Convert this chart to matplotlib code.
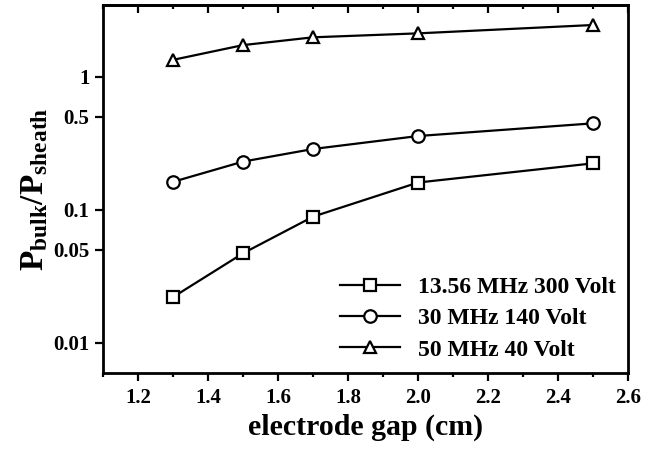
import matplotlib
matplotlib.use("Agg")
import matplotlib.pyplot as plt
from matplotlib.ticker import FixedLocator, MultipleLocator, NullLocator, FormatStrFormatter

plt.rcParams["font.family"] = "Liberation Serif"
plt.rcParams["font.weight"] = "bold"
plt.rcParams["mathtext.fontset"] = "custom"
plt.rcParams["mathtext.rm"] = "Liberation Serif:bold"
plt.rcParams["mathtext.it"] = "Liberation Serif:bold"
plt.rcParams["mathtext.bf"] = "Liberation Serif:bold"

gap = [1.3, 1.5, 1.7, 2.0, 2.5]
ratio_13 = [0.022, 0.047, 0.0886, 0.16, 0.223]
ratio_30 = [0.162, 0.23, 0.286, 0.358, 0.446]
ratio_50 = [1.34, 1.73, 1.98, 2.12, 2.45]
labels = ["13.56 MHz 300 Volt", "30 MHz 140 Volt", "50 MHz 40 Volt"]
ytick_vals = [0.01, 0.05, 0.1, 0.5, 1]
ytick_labels = ["0.01", "0.05", "0.1", "0.5", "1"]

fig = plt.figure(figsize=(6.57, 4.51), dpi=100)
ax = fig.add_axes([0.157, 0.174, 0.799, 0.814])

style = dict(color="black", lw=1.6, markersize=9, markerfacecolor="white",
             markeredgecolor="black", markeredgewidth=1.6)
ax.plot(gap, ratio_13, marker="s", label=labels[0], **style)
ax.plot(gap, ratio_30, marker="o", label=labels[1], **style)
ax.plot(gap, ratio_50, marker="^", label=labels[2], **style)

ax.set_yscale("log")
ax.set_xlim(1.1, 2.6)
ax.set_ylim(0.00595, 3.44)
ax.yaxis.set_major_locator(FixedLocator(ytick_vals))
ax.set_yticklabels(ytick_labels)
ax.yaxis.set_minor_locator(NullLocator())
ax.xaxis.set_major_locator(MultipleLocator(0.2))
ax.xaxis.set_minor_locator(MultipleLocator(0.1))
ax.xaxis.set_major_formatter(FormatStrFormatter("%.1f"))

ax.tick_params(axis="x", which="both", bottom=True, top=False, direction="out",
               labelsize=15, width=1.6, pad=5)
ax.tick_params(axis="x", which="major", length=6)
ax.tick_params(axis="x", which="minor", length=3)
ax.tick_params(axis="y", which="major", direction="out", length=6, width=1.6,
               labelsize=15, pad=4)
for s in ax.spines.values():
    s.set_linewidth(2)

# top ticks point inward
top = ax.secondary_xaxis("top")
top.xaxis.set_major_locator(MultipleLocator(0.2))
top.xaxis.set_minor_locator(MultipleLocator(0.1))
top.tick_params(which="both", direction="in", labeltop=False, width=1.6)
top.tick_params(which="major", length=6)
top.tick_params(which="minor", length=3)
top.spines["top"].set_linewidth(2)

ax.set_xlabel("electrode gap (cm)", fontsize=21.5, fontweight="bold", labelpad=4)
ax.set_ylabel(r"$\mathbf{P_{bulk}/P_{sheath}}$", fontsize=24, labelpad=2)

ax.legend(loc="lower right", frameon=False, handlelength=2.5, handletextpad=0.8,
          borderaxespad=0.1, borderpad=0.4, labelspacing=0.42,
          prop={"weight": "bold", "size": 17})

plt.savefig("out.png", dpi=100)
